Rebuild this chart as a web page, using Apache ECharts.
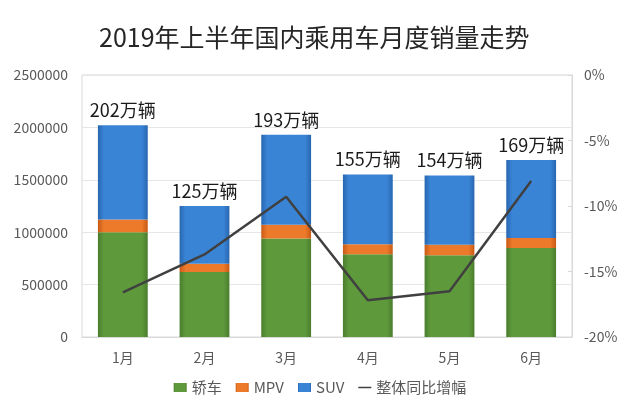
<!DOCTYPE html>
<html>
<head>
<meta charset="utf-8">
<script src="https://cdn.jsdelivr.net/npm/echarts@6/dist/echarts.min.js"></script>
<style>
html,body{margin:0;padding:0;background:#fff;}
#chart{width:640px;height:412px;}
</style>
</head>
<body>
<div id="chart"></div>
<script>
var months = ['1月','2月','3月','4月','5月','6月'];
var sedan = [1000000, 620000, 940000, 790000, 780000, 850000];
var mpv = [120000, 80000, 130000, 95000, 100000, 95000];
var suv = [900000, 550000, 860000, 665000, 660000, 745000];
var totalLabels = ['202万辆','125万辆','193万辆','155万辆','154万辆','169万辆'];
var growth = [-16.6, -13.7, -9.3, -17.2, -16.5, -8.1];
var leftTicks = [0, 2500000, 500000];
var rightTicks = [-20, 0, 5];

var FONT = '"Noto Sans CJK SC", "Noto Sans", sans-serif';
function grad(edge, mid) {
  return new echarts.graphic.LinearGradient(0, 0, 1, 0, [
    {offset: 0, color: edge},
    {offset: 0.12, color: mid},
    {offset: 0.88, color: mid},
    {offset: 1, color: edge}
  ]);
}
var chart = echarts.init(document.getElementById('chart'));
chart.setOption({
  backgroundColor: '#ffffff',
  animation: false,
  title: {
    text: '2019年上半年国内乘用车月度销量走势',
    left: 94,
    top: 20,
    textStyle: {fontFamily: FONT, fontSize: 25, fontWeight: 'normal', color: '#262626'}
  },
  legend: {
    bottom: 12,
    left: 'center',
    itemWidth: 13,
    itemHeight: 9,
    itemGap: 14,
    textStyle: {fontFamily: FONT, fontSize: 15, color: '#595959'},
    data: [
      {name: '轿车', icon: 'rect'},
      {name: 'MPV', icon: 'rect'},
      {name: 'SUV', icon: 'rect'},
      {name: '整体同比增幅', icon: 'path://M0 0 H26 V3 H0 Z'}
    ]
  },
  grid: {left: 82, right: 68, top: 75, bottom: 75, show: true, borderColor: '#d9d9d9', borderWidth: 1},
  xAxis: {
    type: 'category',
    data: months,
    axisLine: {lineStyle: {color: '#d9d9d9'}},
    axisTick: {show: false},
    axisLabel: {fontFamily: FONT, fontSize: 14, color: '#595959', margin: 14}
  },
  yAxis: [{
    type: 'value',
    min: leftTicks[0], max: leftTicks[1], interval: leftTicks[2],
    axisLine: {show: false},
    axisTick: {show: false},
    splitLine: {lineStyle: {color: '#e6e6e6'}},
    axisLabel: {fontFamily: FONT, fontSize: 14, color: '#595959', margin: 14,
      formatter: function (v) { return String(v); }}
  }, {
    type: 'value',
    min: rightTicks[0], max: rightTicks[1], interval: rightTicks[2],
    axisLine: {show: true, lineStyle: {color: '#d9d9d9'}},
    axisTick: {show: true, inside: true, length: 4, lineStyle: {color: '#d9d9d9'}},
    splitLine: {show: false},
    axisLabel: {fontFamily: FONT, fontSize: 14, color: '#595959', margin: 12, formatter: '{value}%'}
  }],
  series: [{
    name: '轿车', type: 'bar', stack: 'total', barWidth: '61%',
    itemStyle: {color: grad('#4a7d2c', '#5e9a3c')},
    data: sedan
  }, {
    name: 'MPV', type: 'bar', stack: 'total',
    itemStyle: {color: grad('#c85a16', '#ec7a2a')},
    data: mpv
  }, {
    name: 'SUV', type: 'bar', stack: 'total',
    itemStyle: {color: grad('#2766b0', '#3a84d6')},
    label: {
      show: true, position: 'top', distance: 6,
      fontFamily: FONT, fontSize: 18, color: '#1a1a1a',
      formatter: function (p) { return totalLabels[p.dataIndex]; }
    },
    data: suv
  }, {
    name: '整体同比增幅', type: 'line', yAxisIndex: 1,
    symbol: 'none',
    itemStyle: {color: '#404040'},
    lineStyle: {color: '#404040', width: 2.5},
    data: growth
  }]
});
</script>
</body>
</html>
